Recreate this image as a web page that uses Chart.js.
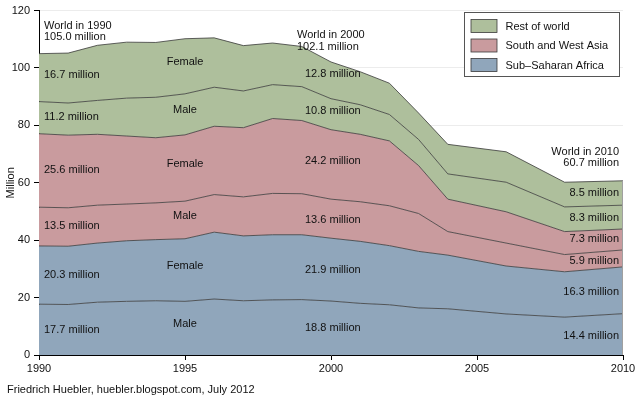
<!DOCTYPE html>
<html>
<head>
<meta charset="utf-8">
<script src="https://cdn.jsdelivr.net/npm/chart.js@4"></script>
<style>
  html, body { margin: 0; padding: 0; background: #fff; }
  #wrap { width: 640px; height: 400px; }
</style>
</head>
<body>
<div id="wrap"><canvas id="chart"></canvas></div>
<script>
const years = [1990, 1991, 1992, 1993, 1994, 1995, 1996, 1997, 1998, 1999, 2000, 2001, 2002, 2003, 2004, 2006, 2008, 2010];

// out-of-school children, million
const ssaMale = [17.7, 17.6, 18.4, 18.7, 18.9, 18.7, 19.5, 18.9, 19.2, 19.3, 18.8, 18.0, 17.5, 16.4, 16.1, 14.3, 13.2, 14.4];
const ssaFemale = [20.3, 20.3, 20.6, 21.1, 21.3, 21.8, 23.3, 22.6, 22.7, 22.6, 21.9, 21.6, 20.6, 19.7, 18.7, 16.7, 15.8, 16.3];
const swaMale = [13.5, 13.4, 13.2, 12.8, 12.8, 13.1, 13.1, 13.6, 14.4, 14.3, 13.6, 13.8, 13.9, 13.2, 8.2, 8.0, 6.0, 5.9];
const swaFemale = [25.6, 25.3, 24.7, 23.7, 22.7, 23.1, 23.8, 24.1, 26.1, 25.5, 24.2, 23.5, 22.6, 16.7, 11.3, 10.9, 8.0, 7.3];
const rowMale = [11.2, 11.2, 11.8, 13.2, 14.1, 14.3, 13.6, 12.8, 11.8, 11.8, 10.8, 10.3, 9.2, 9.1, 8.8, 10.3, 8.6, 8.3];
const rowFemale = [16.7, 17.4, 19.2, 19.5, 19.1, 19.2, 17.2, 15.8, 14.5, 14.0, 12.8, 11.5, 10.9, 9.2, 10.3, 10.6, 8.6, 8.5];

const yTicks = [0, 20, 40, 60, 80, 100, 120];
const xTicks = [1990, 1995, 2000, 2005, 2010];

const regionNames = ['Rest of world', 'South and West Asia', 'Sub\u2013Saharan Africa'];
const regionColors = ['#aebf9c', '#c99b9e', '#90a6bb'];

const worldLabels = [
  { year: 1990, lines: ['World in 1990', '105.0 million'] },
  { year: 2000, lines: ['World in 2000', '102.1 million'] },
  { year: 2010, lines: ['World in 2010', '60.7 million'] }
];
const sexLabels = ['Male', 'Female', 'Male', 'Female', 'Male', 'Female'];
const labels1990 = ['17.7 million', '20.3 million', '13.5 million', '25.6 million', '11.2 million', '16.7 million'];
const labels2000 = ['18.8 million', '21.9 million', '13.6 million', '24.2 million', '10.8 million', '12.8 million'];
const labels2010 = ['14.4 million', '16.3 million', '5.9 million', '7.3 million', '8.3 million', '8.5 million'];

const FONT = '"Liberation Sans", Arial, Helvetica, sans-serif';

function toPoints(arr) {
  return arr.map((v, i) => ({ x: years[i], y: v }));
}

const seriesList = [
  { label: 'SSA male', data: ssaMale, color: regionColors[2] },
  { label: 'SSA female', data: ssaFemale, color: regionColors[2] },
  { label: 'SWA male', data: swaMale, color: regionColors[1] },
  { label: 'SWA female', data: swaFemale, color: regionColors[1] },
  { label: 'RoW male', data: rowMale, color: regionColors[0] },
  { label: 'RoW female', data: rowFemale, color: regionColors[0] }
];

const datasets = seriesList.map((s, i) => ({
  label: s.label,
  data: toPoints(s.data),
  backgroundColor: s.color,
  borderColor: '#3a3a3a',
  borderWidth: 0.8,
  pointRadius: 0,
  tension: 0,
  fill: i === 0 ? 'origin' : '-1'
}));

// text labels, legend and right edge
const annotations = {
  id: 'annotations',
  afterDatasetsDraw(chart) {
    const { ctx, scales } = chart;
    const xs = scales.x, ys = scales.y;
    ctx.save();

    // right edge of the area
    const last = years.length - 1;
    let top = 0;
    seriesList.forEach(s => { top += s.data[last]; });
    ctx.strokeStyle = '#a0a0a0';
    ctx.lineWidth = 1;
    ctx.beginPath();
    ctx.moveTo(xs.getPixelForValue(2010) - 0.5, ys.getPixelForValue(0));
    ctx.lineTo(xs.getPixelForValue(2010) - 0.5, ys.getPixelForValue(top));
    ctx.stroke();

    ctx.fillStyle = '#111';
    ctx.font = '11px ' + FONT;
    ctx.textBaseline = 'middle';

    // band centres at 1990, 2000, 2010
    function bandMid(col, k) {
      let base = 0;
      for (let j = 0; j < k; j++) base += seriesList[j].data[col];
      return base + seriesList[k].data[col] / 2;
    }
    const i1990 = years.indexOf(1990), i1995 = years.indexOf(1995);
    const i2000 = years.indexOf(2000);
    const offsets1990 = [0, 0, -1, 0, -1, -3];
    const offsets2000 = [0, 0, 1, -3, -3, -6];
    const offsets2010 = [2, 2, 3, -1, 1, 0];
    for (let k = 0; k < seriesList.length; k++) {
      ctx.textAlign = 'left';
      ctx.fillText(labels1990[k], xs.getPixelForValue(1990) + 5,
        ys.getPixelForValue(bandMid(i1990, k)) + offsets1990[k]);
      ctx.fillText(labels2000[k], xs.getPixelForValue(2000) - 26,
        ys.getPixelForValue(bandMid(i2000, k)) + offsets2000[k]);
      ctx.textAlign = 'right';
      ctx.fillText(labels2010[k], xs.getPixelForValue(2010) - 4,
        ys.getPixelForValue(bandMid(last, k)) + offsets2010[k]);
      ctx.textAlign = 'center';
      ctx.fillText(sexLabels[k], xs.getPixelForValue(1995),
        ys.getPixelForValue(bandMid(i1995, k)) - 4);
    }

    // world totals
    worldLabels.forEach(w => {
      const idx = years.indexOf(w.year);
      let tot = 0;
      seriesList.forEach(s => { tot += s.data[idx]; });
      let x, align, y0;
      if (w.year === 1990) { x = xs.getPixelForValue(1990) + 5; align = 'left'; y0 = ys.getPixelForValue(tot) - 28; }
      else if (w.year === 2000) { x = xs.getPixelForValue(2000) - 34; align = 'left'; y0 = ys.getPixelForValue(tot) - 27; }
      else { x = xs.getPixelForValue(2010) - 4; align = 'right'; y0 = ys.getPixelForValue(tot) - 29; }
      ctx.textAlign = align;
      w.lines.forEach((t, j) => ctx.fillText(t, x, y0 + j * 11.5));
    });

    // legend box
    const lx = 464.5, ly = 12.5, lw = 155, lh = 64;
    ctx.fillStyle = '#fff';
    ctx.fillRect(lx, ly, lw, lh);
    ctx.strokeStyle = '#555';
    ctx.lineWidth = 1;
    ctx.strokeRect(lx, ly, lw, lh);
    regionNames.forEach((name, j) => {
      const sy = ly + 7 + j * 19.5;
      ctx.fillStyle = regionColors[j];
      ctx.fillRect(lx + 6.5, sy, 26, 13);
      ctx.strokeStyle = '#3a3a3a';
      ctx.lineWidth = 0.8;
      ctx.strokeRect(lx + 6.5, sy, 26, 13);
      ctx.fillStyle = '#111';
      ctx.textAlign = 'left';
      ctx.fillText(name, lx + 41, sy + 7);
    });

    // source note
    ctx.textAlign = 'left';
    ctx.fillText('Friedrich Huebler, huebler.blogspot.com, July 2012', 7, 390);
    ctx.restore();
  }
};

new Chart(document.getElementById('chart').getContext('2d'), {
  type: 'line',
  data: { datasets: datasets },
  plugins: [annotations],
  options: {
    responsive: true,
    maintainAspectRatio: false,
    animation: false,
    layout: { padding: { top: 7, right: 17, bottom: 0, left: 0 } },
    scales: {
      x: {
        type: 'linear',
        min: 1990,
        max: 2010,
        afterBuildTicks: axis => { axis.ticks = xTicks.map(v => ({ value: v })); },
        afterFit: axis => { axis.height = 45; },
        grid: { drawOnChartArea: false, tickLength: 5, tickColor: '#000' },
        border: { color: '#000', width: 1 },
        ticks: {
          color: '#111',
          font: { family: FONT, size: 11 },
          padding: 2,
          maxRotation: 0,
          callback: v => String(v)
        }
      },
      y: {
        stacked: true,
        min: 0,
        max: 120,
        afterBuildTicks: axis => { axis.ticks = yTicks.map(v => ({ value: v })); },
        afterFit: axis => { axis.width = 39; },
        grid: { color: '#ececec', tickLength: 5, tickColor: '#000' },
        border: { color: '#000', width: 1 },
        title: {
          display: true,
          text: 'Million',
          color: '#111',
          font: { family: FONT, size: 11 },
          padding: { top: 4, bottom: 0 }
        },
        ticks: {
          color: '#111',
          font: { family: FONT, size: 11 },
          padding: 4
        }
      }
    },
    plugins: {
      legend: { display: false },
      tooltip: { enabled: false }
    }
  }
});
</script>
</body>
</html>
